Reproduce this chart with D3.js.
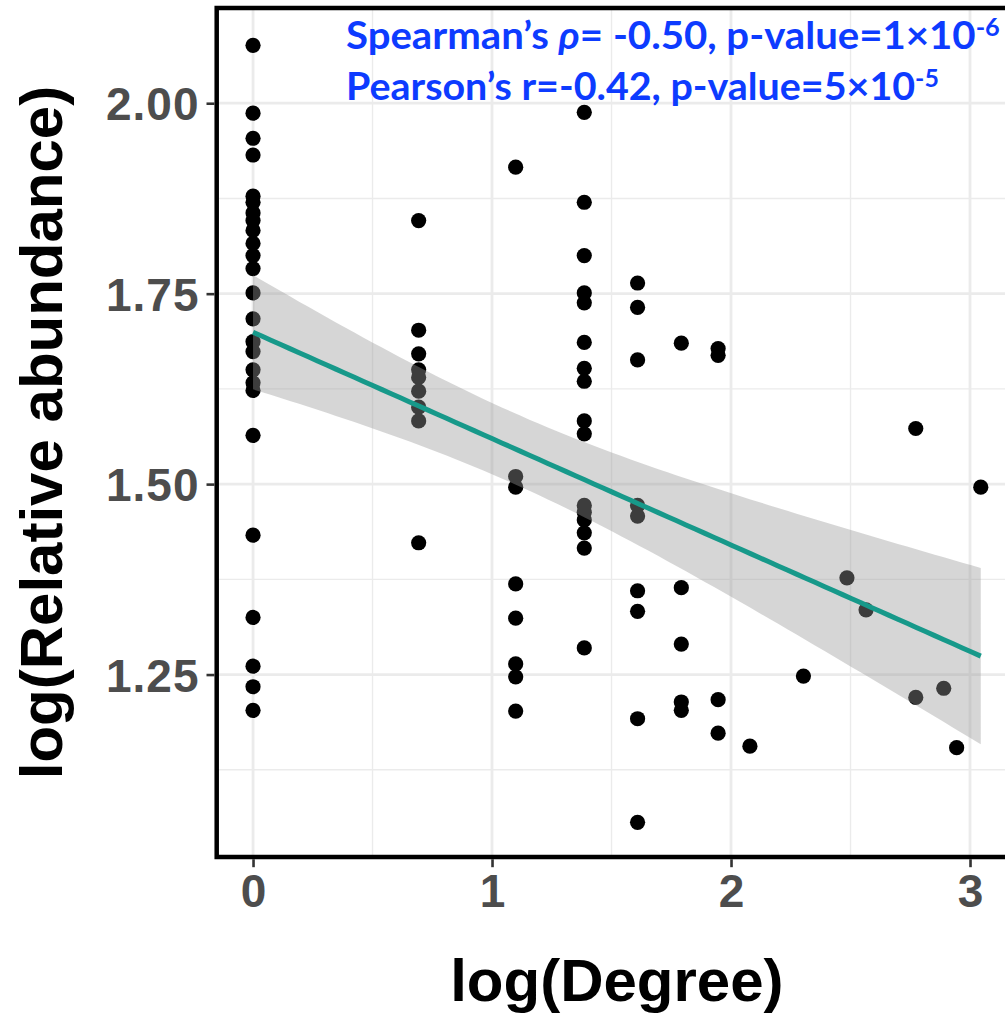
<!DOCTYPE html>
<html><head><meta charset="utf-8">
<script src="https://cdn.jsdelivr.net/npm/d3@7"></script>
<style>body{margin:0;background:#fff;} svg{display:block;}</style>
</head><body>
<svg id="chart" width="1005" height="1014"></svg>
<script>
// ---- data ----
const logDegreeLevels = [0, 0.693, 1.099, 1.386, 1.609, 1.792, 1.946, 2.079, 2.303, 2.485, 2.565, 2.773, 2.890, 2.944, 3.045];
const logAbundanceByLevel = [
  [2.076,1.987,1.954,1.932,1.878,1.870,1.856,1.846,1.833,1.816,1.800,1.783,1.751,1.717,1.687,1.674,1.650,1.633,1.623,1.564,1.433,1.325,1.261,1.234,1.203],
  [1.846,1.702,1.671,1.650,1.640,1.622,1.601,1.583,1.423],
  [1.916,1.510,1.496,1.369,1.324,1.264,1.247,1.202],
  [1.988,1.870,1.800,1.751,1.738,1.686,1.652,1.635,1.583,1.566,1.472,1.463,1.453,1.436,1.416,1.285],
  [1.764,1.732,1.663,1.472,1.458,1.360,1.333,1.192,1.056],
  [1.685,1.364,1.290,1.214,1.203],
  [1.678,1.669,1.217,1.173],
  [1.156],
  [1.248],
  [1.377],
  [1.335],
  [1.573,1.220],
  [1.232],
  [1.154],
  [1.496]
];
const xTicks = [0, 1, 2, 3];
const xTickLabels = ["0", "1", "2", "3"];
const yTicks = [1.25, 1.50, 1.75, 2.00];
const yTickLabels = ["1.25", "1.50", "1.75", "2.00"];
const xMinor = [0.5, 1.5, 2.5];
const yMinor = [1.125, 1.375, 1.625, 1.875];
const xTitle = "log(Degree)";
const yTitle = "log(Relative abundance)";
const spearmanText = {pre: "Spearman\u2019s ", sym: "\u03C1", post: "= -0.50, p-value=1\u00D710", sup: "-6"};
const pearsonText = {pre: "Pearson\u2019s r=-0.42, p-value=5\u00D710", sup: "-5"};
const tCrit = 1.989; // 95% t quantile, df = 83

// ---- build points ----
const points = [];
logDegreeLevels.forEach((x, i) => logAbundanceByLevel[i].forEach(y => points.push({x, y})));

const svg = d3.select("#chart");
const P = {left: 216.7, right: 1017.1, top: 8, bottom: 857};
const x = d3.scaleLinear().domain([-0.152, 3.197]).range([P.left, P.right]);
const y = d3.scaleLinear().domain([1.0105, 2.125]).range([P.bottom, P.top]);

const panel = svg.append("g");
panel.append("rect").attr("x", P.left).attr("y", P.top).attr("width", P.right - P.left).attr("height", P.bottom - P.top).attr("fill", "#fff");

// grid
const grid = panel.append("g").attr("stroke", "#ebebeb");
grid.selectAll(".xm").data(xMinor).join("line").attr("x1", d => x(d)).attr("x2", d => x(d)).attr("y1", P.top).attr("y2", P.bottom).attr("stroke-width", 1.4);
grid.selectAll(".ym").data(yMinor).join("line").attr("y1", d => y(d)).attr("y2", d => y(d)).attr("x1", P.left).attr("x2", P.right).attr("stroke-width", 1.4);
grid.selectAll(".xM").data(xTicks).join("line").attr("x1", d => x(d)).attr("x2", d => x(d)).attr("y1", P.top).attr("y2", P.bottom).attr("stroke-width", 2.8);
grid.selectAll(".yM").data(yTicks).join("line").attr("y1", d => y(d)).attr("y2", d => y(d)).attr("x1", P.left).attr("x2", P.right).attr("stroke-width", 2.8);

// points
panel.append("g").selectAll("circle").data(points).join("circle")
  .attr("cx", d => x(d.x)).attr("cy", d => y(d.y)).attr("r", 7.6).attr("fill", "#000");

// linear fit with 95% CI
const n = points.length;
const xbar = d3.mean(points, d => d.x), ybar = d3.mean(points, d => d.y);
const Sxx = d3.sum(points, d => (d.x - xbar) ** 2);
const Sxy = d3.sum(points, d => (d.x - xbar) * (d.y - ybar));
const slope = Sxy / Sxx, intercept = ybar - slope * xbar;
const sse = d3.sum(points, d => (d.y - intercept - slope * d.x) ** 2);
const s = Math.sqrt(sse / (n - 2));
const xMin = d3.min(points, d => d.x), xMax = d3.max(points, d => d.x);
const fit = d3.range(80).map(i => {
  const xv = xMin + (xMax - xMin) * i / 79;
  const yh = intercept + slope * xv;
  const se = s * Math.sqrt(1 / n + (xv - xbar) ** 2 / Sxx);
  return {x: xv, y: yh, lo: yh - tCrit * se, hi: yh + tCrit * se};
});
panel.append("path").datum(fit)
  .attr("d", d3.area().x(d => x(d.x)).y0(d => y(d.lo)).y1(d => y(d.hi)))
  .attr("fill", "#999999").attr("fill-opacity", 0.4);
panel.append("path").datum(fit)
  .attr("d", d3.line().x(d => x(d.x)).y(d => y(d.y)))
  .attr("fill", "none").attr("stroke", "#17998a").attr("stroke-width", 5);

// border
panel.append("rect").attr("x", P.left).attr("y", P.top).attr("width", P.right - P.left).attr("height", P.bottom - P.top)
  .attr("fill", "none").attr("stroke", "#000").attr("stroke-width", 4.5);

// axes
const fontFam = "'Liberation Sans', Arial, Helvetica, sans-serif";
const xAxis = svg.append("g").attr("transform", `translate(0,${P.bottom + 2.2})`)
  .call(d3.axisBottom(x).tickValues(xTicks).tickFormat((d, i) => xTickLabels[i]).tickSize(8).tickPadding(7));
const yAxis = svg.append("g").attr("transform", `translate(${P.left - 2.2},0)`)
  .call(d3.axisLeft(y).tickValues(yTicks).tickFormat((d, i) => yTickLabels[i]).tickSize(8).tickPadding(7));
[xAxis, yAxis].forEach(a => {
  a.select(".domain").remove();
  a.selectAll(".tick line").attr("stroke", "#333").attr("stroke-width", 2.6);
  a.selectAll(".tick text").attr("fill", "#4d4d4d").attr("font-family", fontFam)
    .attr("font-weight", "bold").attr("font-size", 46);
});
yAxis.selectAll(".tick text").attr("dy", "0.36em").attr("letter-spacing", 1);
xAxis.selectAll(".tick text").attr("dy", "0.72em");

// titles
svg.append("text").attr("x", (P.left + P.right) / 2).attr("y", 1001)
  .attr("text-anchor", "middle").attr("font-family", fontFam).attr("font-weight", "bold")
  .attr("font-size", 60).attr("fill", "#000").text(xTitle);
svg.append("text").attr("transform", `translate(62,${(P.top + P.bottom) / 2}) rotate(-90)`)
  .attr("text-anchor", "middle").attr("font-family", fontFam).attr("font-weight", "bold")
  .attr("font-size", 60).attr("fill", "#000").text(yTitle);

// annotation
const annFont = "Lato, 'Open Sans', sans-serif";
const blue = "#0d3bff";
function annLine(parts, baseY, targetRight) {
  const g = svg.append("g");
  const t = g.append("text").attr("x", 0).attr("y", 0).attr("font-family", annFont)
    .attr("font-weight", "bold").attr("font-size", 38).attr("fill", blue);
  t.append("tspan").text(parts.pre);
  if (parts.sym) t.append("tspan").attr("font-style", "italic").text(parts.sym);
  if (parts.post) t.append("tspan").text(parts.post);
  t.append("tspan").attr("dy", -13).attr("font-size", 24).text(parts.sup);
  const w = t.node().getBBox().width;
  const sx = (targetRight - 346) / w;
  g.attr("transform", `translate(346,${baseY}) scale(${sx},1)`);
}
annLine(spearmanText, 49, 1000);
annLine(pearsonText, 100, 939);
</script>
</body></html>
